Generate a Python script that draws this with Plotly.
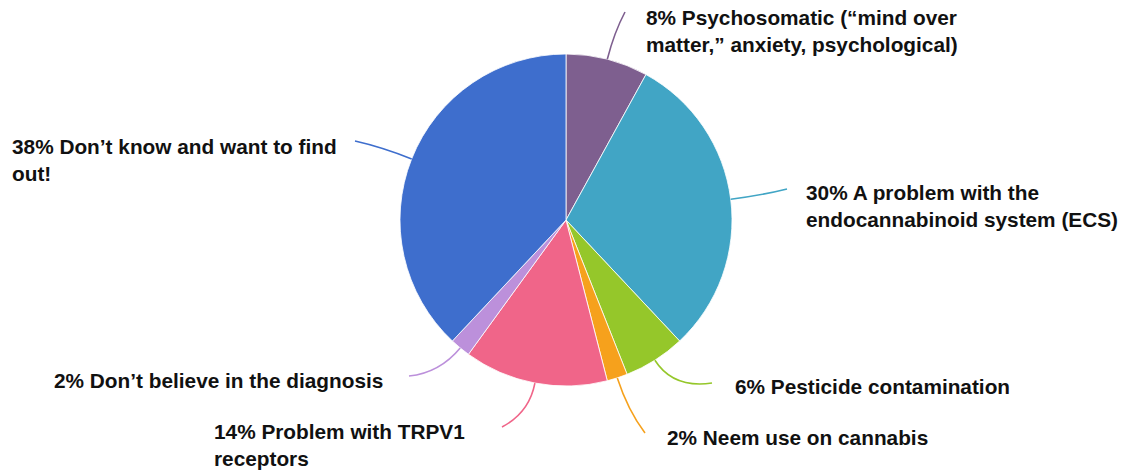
import math
import plotly.graph_objects as go

# Survey answers, in clockwise order starting at 12 o'clock
labels = [
    "Psychosomatic (“mind over<br>matter,” anxiety, psychological)",
    "A problem with the<br>endocannabinoid system (ECS)",
    "Pesticide contamination",
    "Neem use on cannabis",
    "Problem with TRPV1<br>receptors",
    "Don’t believe in the diagnosis",
    "Don’t know and want to find<br>out!",
]
shares = [8, 30, 6, 2, 14, 2, 38]
colors = ["#7E5F8F", "#41A5C5", "#95C72A", "#F6A11C", "#F06589", "#BC90DB", "#3E6ECD"]

W, H = 1125, 473
CX, CY, R = 566, 220, 166  # pie centre and radius in pixels

# Where each label's text begins (left edge, middle of first line) and where its leader ends
text_pos = [(644, 18), (804, 193), (733, 387), (665, 438), (212, 432), (52, 381), (10, 147)]
leader_end = [(625, 12), (787, 189), (712, 383), (645, 433), (502, 427), (409, 376), (355, 141)]

FONT = dict(family="Liberation Sans, Arial, Helvetica, sans-serif", size=20.8, color="#111111", weight="bold")

fig = go.Figure()
fig.add_trace(go.Pie(
    values=shares,
    labels=[l.replace("<br>", " ") for l in labels],
    marker=dict(colors=colors, line=dict(color="rgba(255,255,255,0.8)", width=1)),
    sort=False,
    direction="clockwise",
    rotation=0,
    textinfo="none",
    hoverinfo="label+percent",
    showlegend=False,
    domain=dict(x=[(CX - R) / W, (CX + R) / W], y=[(H - CY - R) / H, (H - CY + R) / H]),
))

shapes = []
annotations = []
total = sum(shares)
cum = 0
for lab, v, col, (tx, ty), (ex, ey) in zip(labels, shares, colors, text_pos, leader_end):
    mid = (cum + v / 2) / total * 2 * math.pi
    cum += v
    dx, dy = math.sin(mid), -math.cos(mid)
    x0, y0 = CX + R * dx, CY + R * dy
    dist = math.hypot(ex - x0, ey - y0)
    L = 0.55 * dist
    cx, cy = x0 + L * dx, y0 + L * dy
    shapes.append(dict(
        type="path", xref="x", yref="y", layer="above",
        path=f"M {x0:.1f},{y0:.1f} Q {cx:.1f},{cy:.1f} {ex:.1f},{ey:.1f}",
        line=dict(color=col, width=1.6),
    ))
    annotations.append(dict(
        x=tx, y=ty - 14, xref="x", yref="y", xanchor="left", yanchor="top",
        text=f"{v}% {lab}", showarrow=False, align="left", font=FONT,
    ))

fig.update_layout(
    width=W, height=H,
    margin=dict(l=0, r=0, t=0, b=0),
    paper_bgcolor="white", plot_bgcolor="white",
    xaxis=dict(range=[0, W], visible=False, fixedrange=True),
    yaxis=dict(range=[H, 0], visible=False, fixedrange=True),
    shapes=shapes,
    annotations=annotations,
    showlegend=False,
)

fig.write_html("out.html")
